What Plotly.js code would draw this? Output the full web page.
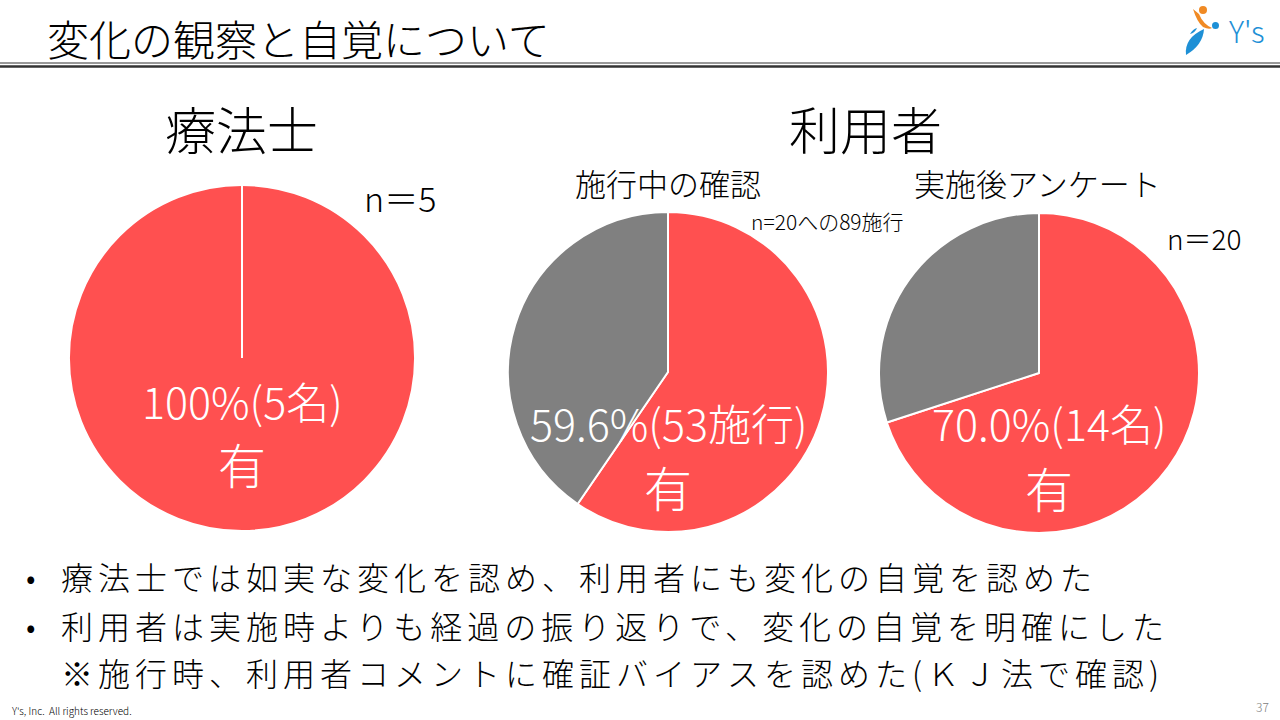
<!DOCTYPE html>
<html>
<head>
<meta charset="utf-8">
<script src="https://cdn.plot.ly/plotly-3.0.1.min.js"></script>
<style>html,body{margin:0;padding:0;background:#fff;}#chart{width:1280px;height:720px;}</style>
</head>
<body>
<div id="chart"></div>
<script>
// ---- data ----
const groupTitles = ["療法士", "利用者"];
const pieTitles = ["", "施行中の確認", "実施後アンケート"];
const categories = ["有", "無"];
const therapistValues = [5];
const duringValues = [53, 36];
const afterValues = [14, 6];
const unitLabels = ["名", "施行", "名"];
const nLabels = ["n＝5", "n=20への89施行", "n＝20"];
const bullets = [
  "療法士では如実な変化を認め、利用者にも変化の自覚を認めた",
  "利用者は実施時よりも経過の振り返りで、変化の自覚を明確にした"
];
const note = "※施行時、利用者コメントに確証バイアスを認めた(ＫＪ法で確認)";
const slideTitle = "変化の観察と自覚について";

const W = 1280, H = 720;
const FONT = "'Noto Sans CJK JP', 'Noto Sans', sans-serif";
const RED = "#FF5050", GRAY = "#808080";
const WT = 300;

// letter spacing for the bullet lines (matches clones used for measuring too)
const st = document.createElement("style");
st.textContent = bullets.concat([note])
  .map(t => 'text.annotation-text[data-unformatted="' + t + '"]').join(",") +
  "{letter-spacing:5px;}";
document.head.appendChild(st);

function dom(x0, y0, x1, y1) {
  return {x: [x0 / W, x1 / W], y: [1 - y1 / H, 1 - y0 / H]};
}

const pieSets = [
  {values: therapistValues, domain: dom(69, 185, 415, 531)},
  {values: duringValues, domain: dom(508, 212, 828, 532)},
  {values: afterValues, domain: dom(879, 213, 1199, 533)}
];

const traces = [{
  type: "scatter", x: [], y: [], showlegend: false, hoverinfo: "skip"
}];
pieSets.forEach(p => {
  traces.push({
    type: "pie",
    labels: categories.slice(0, p.values.length),
    values: p.values,
    domain: p.domain,
    sort: false,
    direction: "clockwise",
    rotation: 0,
    textinfo: "none",
    hoverinfo: "label+value+percent",
    marker: {colors: [RED, GRAY], line: {color: "#ffffff", width: 2}},
    showlegend: false
  });
});

function pct(vals) {
  const t = vals.reduce((a, b) => a + b, 0);
  return vals[0] / t * 100;
}

const ann = [];
function txt(x, y, text, size, color, xanchor, extra) {
  ann.push(Object.assign({
    x: x, y: y, xref: "x", yref: "y", text: text, showarrow: false,
    xanchor: xanchor || "center", yanchor: "middle",
    font: {family: FONT, size: size, color: color || "#000000", weight: WT}
  }, extra || {}));
  return ann.length - 1;
}

// slide title
txt(45, 37, slideTitle, 42, "#000", "left");
// group titles
txt(241, 128, groupTitles[0], 51, "#000");
txt(865, 128, groupTitles[1], 51, "#000");
// pie titles
txt(668, 182, pieTitles[1], 31, "#000");
txt(1037, 182, pieTitles[2], 31, "#000");
// n labels
txt(400, 197, nLabels[0], 34, "#000");
txt(827, 221, nLabels[1], 21, "#000");
txt(1204, 238, nLabels[2], 28, "#000");

// pie labels
const pctTexts = [
  pct(therapistValues).toFixed(0) + "%(" + therapistValues[0] + unitLabels[0] + ")",
  pct(duringValues).toFixed(1) + "%(" + duringValues[0] + unitLabels[1] + ")",
  pct(afterValues).toFixed(1) + "%(" + afterValues[0] + unitLabels[2] + ")"
];
const labelPos = [[242, 400, 463], [668, 422, 486], [1049, 422, 487]];
labelPos.forEach((p, i) => {
  txt(p[0], p[1], pctTexts[i], 43, "#ffffff");
  txt(p[0], p[2], categories[0], 48, "#ffffff");
});

// bullets
const lineY = [576, 625, 672];
txt(31, lineY[0], "•", 30, "#000", "center");
txt(31, lineY[1], "•", 30, "#000", "center");
txt(59, lineY[0], bullets[0], 32, "#000", "left");
txt(59, lineY[1], bullets[1], 32, "#000", "left");
txt(59, lineY[2], note, 32, "#000", "left");

// footer
txt(10, 710, "Y's, Inc.  All rights reserved.", 10, "#000", "left");
txt(1262, 706, "37", 12, "#808080", "center");
// logo text
txt(1246, 30, "Y's", 30, "#1E90D6", "center");

const shapes = [
  {type: "line", xref: "x", yref: "y", x0: 0, x1: W, y0: 63, y1: 63, line: {color: "#333", width: 1}},
  {type: "line", xref: "x", yref: "y", x0: 0, x1: W, y0: 66.5, y1: 66.5, line: {color: "#333", width: 2.5}},
  // radial line on 100% pie
  {type: "line", xref: "x", yref: "y", x0: 242, x1: 242, y0: 186, y1: 358, line: {color: "#ffffff", width: 2}},
  // logo
  {type: "circle", xref: "x", yref: "y", x0: 1199, x1: 1207, y0: 6, y1: 14, fillcolor: "#F08A24", line: {width: 0}},
  {type: "path", xref: "x", yref: "y", path: "M 1193 9 Q 1197 22 1203 27 Q 1209 30 1212 28 Q 1203 24 1199 14 Z", fillcolor: "#F08A24", line: {width: 0}},
  {type: "circle", xref: "x", yref: "y", x0: 1212, x1: 1219, y0: 22, y1: 29, fillcolor: "#1E90D6", line: {width: 0}},
  {type: "path", xref: "x", yref: "y", path: "M 1186 55 Q 1184 38 1204 29 Q 1203 45 1186 55 Z", fillcolor: "#1E90D6", line: {width: 0}},
  {type: "path", xref: "x", yref: "y", path: "M 1190 34 Q 1193 29 1197 28 Q 1195 33 1190 34 Z", fillcolor: "#1E90D6", line: {width: 0}}
];

const layout = {
  width: W, height: H,
  margin: {l: 0, r: 0, t: 0, b: 0},
  paper_bgcolor: "#ffffff", plot_bgcolor: "rgba(0,0,0,0)",
  showlegend: false,
  xaxis: {range: [0, W], visible: false, fixedrange: true},
  yaxis: {range: [H, 0], visible: false, fixedrange: true},
  annotations: ann,
  shapes: shapes,
  font: {family: FONT}
};

Plotly.newPlot("chart", traces, layout, {displayModeBar: false, staticPlot: true});
</script>
</body>
</html>
